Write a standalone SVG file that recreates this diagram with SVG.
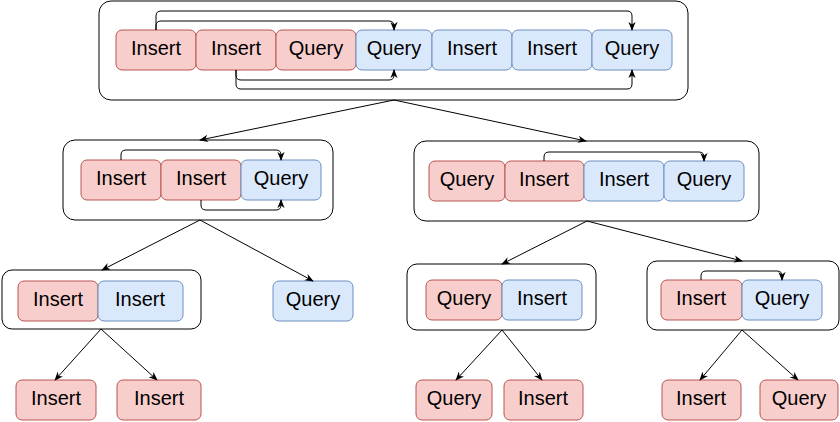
<svg xmlns="http://www.w3.org/2000/svg" width="840" height="422" viewBox="0 0 840 422">
  <defs>
    <marker id="arrow" viewBox="0 0 10 10" refX="9" refY="5" markerWidth="9" markerHeight="9" markerUnits="userSpaceOnUse" orient="auto">
      <path d="M0,1 L10,5 L0,9 L3,5 Z" fill="#000"/>
    </marker>
    <style>
      .frame { fill: #fff; stroke: #000; stroke-width: 1; }
      .red { fill: #f8cecc; stroke: #b85450; stroke-width: 1; }
      .blue { fill: #dae8fc; stroke: #6c8ebf; stroke-width: 1; }
      text { font-family: "Liberation Sans", Arial, Helvetica, sans-serif; font-size: 20px; fill: #000; text-anchor: middle; }
      .edge { fill: none; stroke: #000; stroke-width: 1; marker-end: url(#arrow); }
    </style>
  </defs>
  <rect width="840" height="422" fill="#fff"/>

  <!-- containers and operation boxes -->
  <g id="root">
    <rect class="frame" x="99" y="1" width="589" height="99" rx="12"/>
    <rect class="red" x="116" y="30" width="80" height="40" rx="6"/><text x="156" y="55">Insert</text>
    <rect class="red" x="196" y="30" width="80" height="40" rx="6"/><text x="236" y="55">Insert</text>
    <rect class="red" x="276" y="30" width="80" height="40" rx="6"/><text x="316" y="55">Query</text>
    <rect class="blue" x="356" y="30" width="76" height="40" rx="6"/><text x="394" y="55">Query</text>
    <rect class="blue" x="432" y="30" width="80" height="40" rx="6"/><text x="472" y="55">Insert</text>
    <rect class="blue" x="512" y="30" width="80" height="40" rx="6"/><text x="552" y="55">Insert</text>
    <rect class="blue" x="592" y="30" width="80" height="40" rx="6"/><text x="632" y="55">Query</text>
  </g>

  <g id="left">
    <rect class="frame" x="63" y="140" width="270" height="80" rx="12"/>
    <rect class="red" x="81" y="160" width="80" height="40" rx="6"/><text x="121" y="185">Insert</text>
    <rect class="red" x="161" y="160" width="80" height="40" rx="6"/><text x="201" y="185">Insert</text>
    <rect class="blue" x="241" y="160" width="80" height="40" rx="6"/><text x="281" y="185">Query</text>
  </g>

  <g id="right">
    <rect class="frame" x="414" y="141" width="345" height="80" rx="12"/>
    <rect class="red" x="429" y="161" width="76" height="40" rx="6"/><text x="467" y="186">Query</text>
    <rect class="red" x="505" y="161" width="79" height="40" rx="6"/><text x="544" y="186">Insert</text>
    <rect class="blue" x="584" y="161" width="80" height="40" rx="6"/><text x="624" y="186">Insert</text>
    <rect class="blue" x="664" y="161" width="80" height="40" rx="6"/><text x="704" y="186">Query</text>
  </g>

  <g id="left-left">
    <rect class="frame" x="2" y="270" width="199" height="59" rx="10"/>
    <rect class="red" x="18" y="281" width="80" height="40" rx="6"/><text x="58" y="306">Insert</text>
    <rect class="blue" x="98" y="281" width="85" height="40" rx="6"/><text x="140" y="306">Insert</text>
  </g>

  <g id="left-right">
    <rect class="blue" x="273" y="281" width="80" height="40" rx="6"/><text x="313" y="306">Query</text>
  </g>

  <g id="right-left">
    <rect class="frame" x="407" y="264" width="189" height="66" rx="10"/>
    <rect class="red" x="426" y="280" width="76" height="40" rx="6"/><text x="464" y="305">Query</text>
    <rect class="blue" x="502" y="280" width="80" height="40" rx="6"/><text x="542" y="305">Insert</text>
  </g>

  <g id="right-right">
    <rect class="frame" x="647" y="261" width="192" height="69" rx="10"/>
    <rect class="red" x="661" y="280" width="81" height="40" rx="6"/><text x="701" y="305">Insert</text>
    <rect class="blue" x="742" y="280" width="80" height="40" rx="6"/><text x="782" y="305">Query</text>
  </g>

  <g id="leaves">
    <rect class="red" x="16" y="380" width="80" height="40" rx="6"/><text x="56" y="405">Insert</text>
    <rect class="red" x="117" y="380" width="84" height="40" rx="6"/><text x="159" y="405">Insert</text>
    <rect class="red" x="416" y="380" width="76" height="40" rx="6"/><text x="454" y="405">Query</text>
    <rect class="red" x="504" y="380" width="79" height="40" rx="6"/><text x="543" y="405">Insert</text>
    <rect class="red" x="662" y="380" width="79" height="40" rx="6"/><text x="701" y="405">Insert</text>
    <rect class="red" x="760" y="380" width="78" height="40" rx="6"/><text x="799" y="405">Query</text>
  </g>

  <!-- connectors -->
  <g id="connectors">
    <!-- insert-to-query links inside containers -->
    <path class="edge" d="M156,30 V16 Q156,11 161,11 H627 Q632,11 632,16 V30"/>
    <path class="edge" d="M156,30 V26 Q156,21 161,21 H389 Q394,21 394,26 V30"/>
    <path class="edge" d="M236,70 V75 Q236,80 241,80 H389 Q394,80 394,75 V70"/>
    <path class="edge" d="M236,70 V84 Q236,89 241,89 H627 Q632,89 632,84 V70"/>
    <path class="edge" d="M121,160 V155 Q121,150 126,150 H276 Q281,150 281,155 V160"/>
    <path class="edge" d="M201,200 V205 Q201,210 206,210 H276 Q281,210 281,205 V200"/>
    <path class="edge" d="M544,161 V157 Q544,152 549,152 H699 Q704,152 704,157 V161"/>
    <path class="edge" d="M701,280 V276 Q701,271 706,271 H777 Q782,271 782,276 V280"/>

    <!-- tree splits -->
    <path class="edge" d="M394,100 L200,140"/>
    <path class="edge" d="M394,100 L586,141"/>
    <path class="edge" d="M200,220 L102,270"/>
    <path class="edge" d="M200,220 L313,281"/>
    <path class="edge" d="M587,221 L502,264"/>
    <path class="edge" d="M587,221 L742,261"/>
    <path class="edge" d="M101,329 L55,380"/>
    <path class="edge" d="M101,329 L157,380"/>
    <path class="edge" d="M502,330 L456,380"/>
    <path class="edge" d="M502,330 L542,380"/>
    <path class="edge" d="M742,330 L700,380"/>
    <path class="edge" d="M742,330 L798,380"/>
  </g>
</svg>
